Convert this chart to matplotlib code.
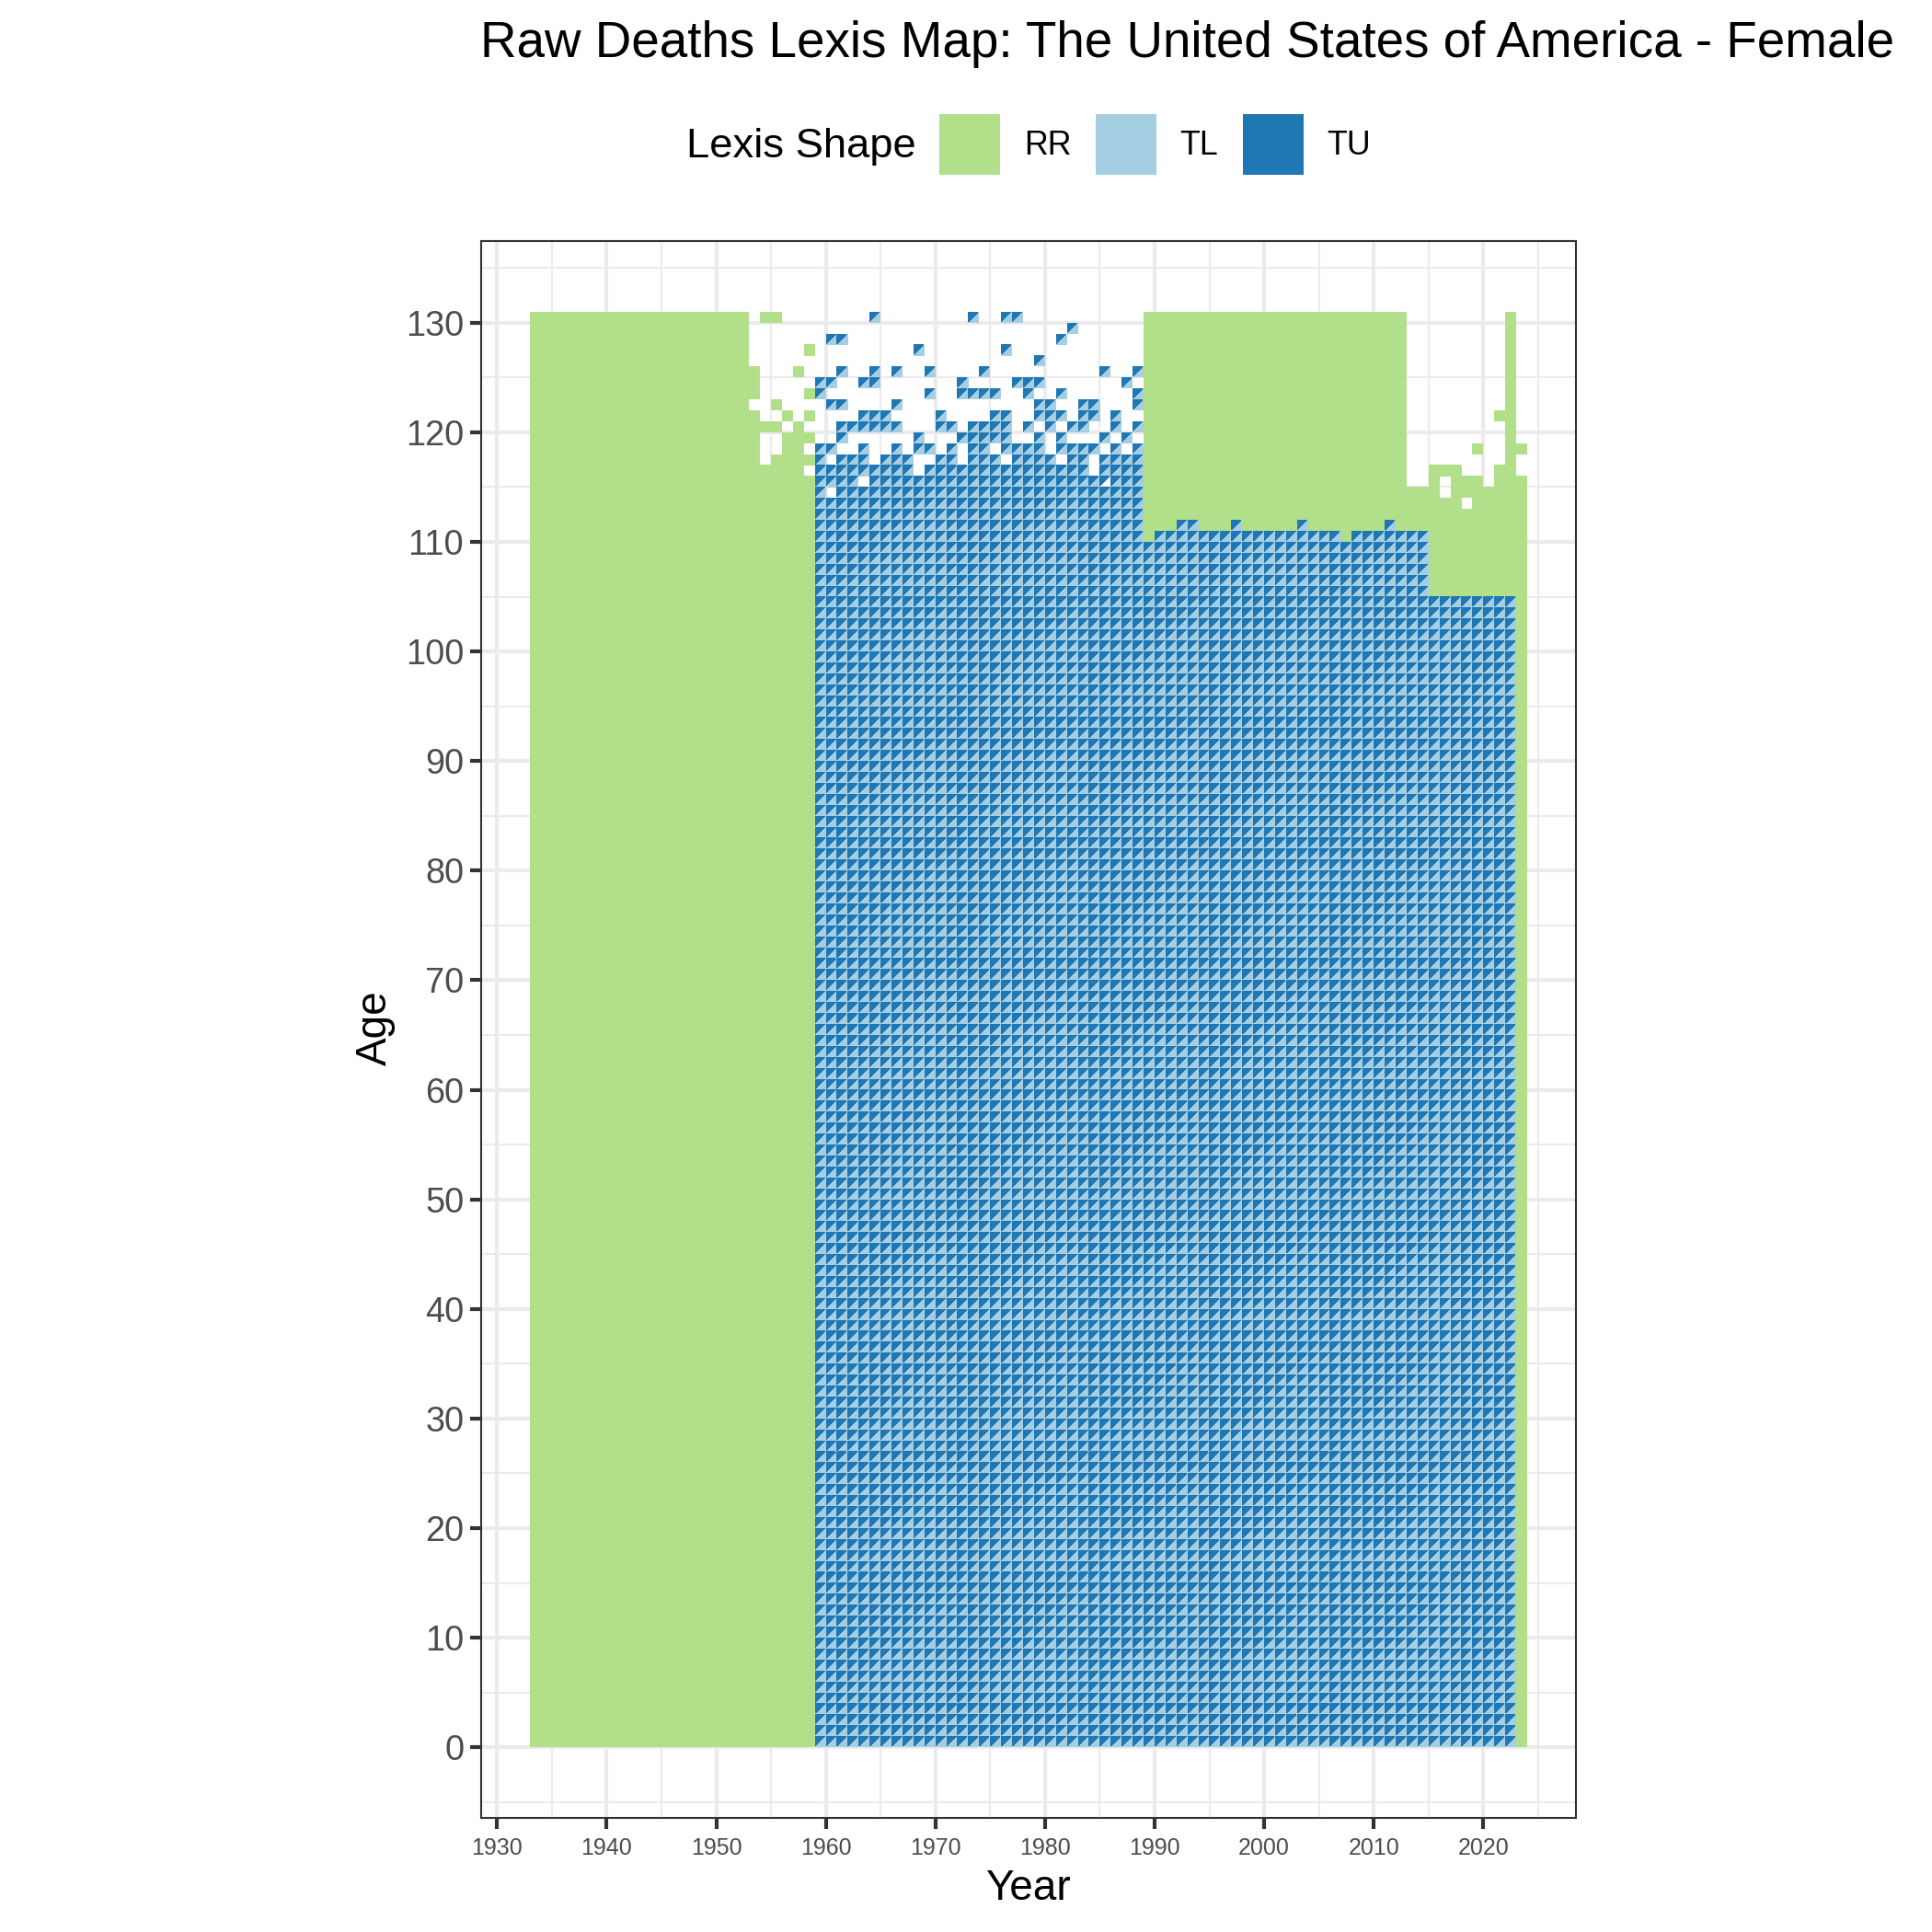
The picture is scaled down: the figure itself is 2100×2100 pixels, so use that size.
import matplotlib
matplotlib.use("Agg")
import matplotlib.pyplot as plt
from matplotlib.path import Path
from matplotlib.patches import Patch, PathPatch

plt.rcParams['font.family'] = ['Liberation Sans', 'DejaVu Sans']

title = "Raw Deaths Lexis Map: The United States of America - Female"
x_major = [1930, 1940, 1950, 1960, 1970, 1980, 1990, 2000, 2010, 2020]
x_minor = [1935, 1945, 1955, 1965, 1975, 1985, 1995, 2005, 2015, 2025]
y_major = [0, 10, 20, 30, 40, 50, 60, 70, 80, 90, 100, 110, 120, 130]
y_minor = [-5, 5, 15, 25, 35, 45, 55, 65, 75, 85, 95, 105, 115, 125, 135]
shape_names = ["RR", "TL", "TU"]
shape_colors = ["#B2DF8A", "#A6CEE3", "#1F78B4"]

# RR: runs of years with a solid span of ages
rr_first = [1933, 1953, 1954, 1955, 1956, 1957, 1958, 1989, 1990, 1992, 1994, 1997, 1998, 2003, 2004,
            2007, 2008, 2011, 2012, 2013, 2015, 2016, 2017, 2018, 2019, 2020, 2021, 2022, 2023]
rr_last = [1952, 1953, 1954, 1955, 1956, 1957, 1958, 1989, 1991, 1993, 1996, 1997, 2002, 2003, 2006,
           2007, 2010, 2011, 2012, 2014, 2015, 2016, 2017, 2018, 2019, 2020, 2021, 2022, 2023]
rr_low = [0, 0, 0, 0, 0, 0, 0, 110, 111, 112, 111, 112, 111, 112, 111,
          110, 111, 112, 111, 111, 105, 105, 105, 105, 105, 105, 105, 105, 0]
rr_high = [130, 121, 116, 117, 119, 120, 115, 130, 130, 130, 130, 130, 130, 130, 130,
           130, 130, 130, 130, 114, 116, 113, 116, 112, 115, 114, 116, 130, 115]
# RR: isolated cells
rr_single_year = [1953, 1953, 1953, 1954, 1954, 1955, 1955, 1955, 1956, 1957, 1958, 1958, 1958, 1958, 1958,
                  2016, 2018, 2018, 2019, 2021, 2023]
rr_single_age = [123, 124, 125, 120, 130, 120, 122, 130, 121, 125, 117, 119, 121, 123, 127,
                 116, 114, 115, 118, 121, 118]

# TL/TU: runs of years with triangles from age 0 to a top age
tri_first = [1959, 1989, 1990, 1992, 1994, 1997, 1998, 2003, 2004, 2007, 2008, 2011, 2012, 2015]
tri_last = [1988, 1989, 1991, 1993, 1996, 1997, 2002, 2003, 2006, 2007, 2010, 2011, 2014, 2022]
tri_top = [117, 109, 110, 111, 110, 111, 110, 111, 110, 109, 110, 111, 110, 104]
# cells absent inside those runs
tri_gap_year = [1960, 1963, 1968, 1984, 1960, 1964, 1968, 1969, 1972, 1976, 1981, 1984]
tri_gap_age = [114, 115, 116, 116, 117, 117, 117, 117, 117, 117, 117, 117]
# a cell with the upper triangle only
tl_missing_year = [1985]
tl_missing_age = [115]
# scattered cells at the highest ages
tri_sparse_age = [118, 119, 120, 121, 122, 123, 124, 125, 126, 127, 128, 129, 130]
tri_sparse_years = [
    [1959, 1960, 1963, 1966, 1968, 1969, 1971, 1973, 1974, 1976, 1977, 1978, 1979, 1981, 1982, 1983, 1984, 1986, 1988],
    [1961, 1968, 1972, 1973, 1974, 1975, 1976, 1979, 1981, 1985, 1987],
    [1961, 1962, 1963, 1964, 1965, 1966, 1970, 1971, 1973, 1974, 1975, 1976, 1978, 1980, 1982, 1983, 1986, 1988],
    [1963, 1964, 1965, 1970, 1975, 1976, 1979, 1980, 1981, 1983, 1984, 1986],
    [1960, 1961, 1966, 1979, 1980, 1983, 1984, 1988],
    [1959, 1969, 1972, 1973, 1974, 1975, 1978, 1981, 1988],
    [1959, 1960, 1963, 1964, 1972, 1977, 1978, 1979, 1987],
    [1961, 1964, 1966, 1969, 1974, 1985, 1988],
    [1979],
    [1968, 1976],
    [1960, 1961, 1981],
    [1982],
    [1964, 1973, 1976, 1977],
]

# cell lists built from the values above
rr_cells = []
for first, last, low, high in zip(rr_first, rr_last, rr_low, rr_high):
    for yr in range(first, last + 1):
        for age in range(low, high + 1):
            rr_cells.append((yr, age))
rr_cells += list(zip(rr_single_year, rr_single_age))

gaps = set(zip(tri_gap_year, tri_gap_age))
tri_cells = []
for first, last, top in zip(tri_first, tri_last, tri_top):
    for yr in range(first, last + 1):
        for age in range(0, top + 1):
            if (yr, age) not in gaps:
                tri_cells.append((yr, age))
for age, yrs in zip(tri_sparse_age, tri_sparse_years):
    tri_cells += [(yr, age) for yr in yrs]
tl_absent = set(zip(tl_missing_year, tl_missing_age))

# Aliased fills colour every pixel they touch, so each shape is pulled in by just under
# half a pixel (and the diagonal of TU by one pixel) so the cells tile without pinholes.
PX = 1 / 11.91
e = 0.4 * PX
d = 1.0 * PX
rr_polys = [[(y + e, a + e), (y + 1 - e, a + e), (y + 1 - e, a + 1 - e), (y + e, a + 1 - e)] for y, a in rr_cells]
tl_polys = [[(y + e, a + e), (y + 1 - e, a + e), (y + 1 - e, a + 1 - e)] for y, a in tri_cells if (y, a) not in tl_absent]
tu_polys = [[(y + e, a + e + d), (y + 1 - e - d, a + 1 - e), (y + e, a + 1 - e)] for y, a in tri_cells]


def shape_patch(polys, color):
    verts, codes = [], []
    for poly in polys:
        verts += poly + [poly[0]]
        codes += [Path.MOVETO] + [Path.LINETO] * (len(poly) - 1) + [Path.CLOSEPOLY]
    return PathPatch(Path(verts, codes), facecolor=color, edgecolor="none", linewidth=0,
                     antialiased=False, snap=False, zorder=2)


fig = plt.figure(figsize=(7, 7), dpi=300, facecolor="white")
L, R, T, B = 523 / 2100, 1713 / 2100, 1 - 262 / 2100, 1 - 1976 / 2100
ax = fig.add_axes([L, B, R - L, T - B])
ax.set_xlim(1928.55, 2028.45)
ax.set_ylim(-6.45, 137.45)

ax.set_axisbelow(True)
ax.set_xticks(x_major)
ax.set_xticks(x_minor, minor=True)
ax.set_yticks(y_major)
ax.set_yticks(y_minor, minor=True)
ax.grid(True, which="major", color="#EBEBEB", linewidth=1.0)
ax.grid(True, which="minor", color="#EBEBEB", linewidth=0.5)
ax.tick_params(which="minor", length=0)
ax.tick_params(axis="both", which="major", length=2.9, width=1.0, color="#333333", labelcolor="#4D4D4D")
ax.tick_params(axis="x", which="major", labelsize=6, pad=2.2)
ax.tick_params(axis="y", which="major", labelsize=9.1, pad=1.6)
for s in ax.spines.values():
    s.set_color("#333333")
    s.set_linewidth(0.5)

for polys, col in [(rr_polys, shape_colors[0]), (tl_polys, shape_colors[1]), (tu_polys, shape_colors[2])]:
    ax.add_patch(shape_patch(polys, col))

fig.text(522 / 2100, 1 - 48 / 2100, title, fontsize=13.15, color="black", ha="left", va="center")
fig.text(1117 / 2100, 1 - 2053 / 2100, "Year", fontsize=11, color="black", ha="center", va="center")
fig.text(408 / 2100, 1 - 1117 / 2100, "Age", fontsize=11, color="black", ha="center", va="center", rotation=90)
fig.text(746 / 2100, 1 - 160 / 2100, "Lexis Shape", fontsize=10.9, color="black", ha="left", va="center")

handles = [Patch(facecolor=c, edgecolor="none", label=n) for n, c in zip(shape_names, shape_colors)]
fig.legend(handles=handles, ncol=3, frameon=False, loc="lower left",
           bbox_to_anchor=(1021 / 2100, 1 - 190 / 2100), borderpad=0, borderaxespad=0,
           fontsize=8.6, handlelength=1.84, handleheight=2.45, handletextpad=0.72, columnspacing=0.74,
           labelcolor="black")

fig.savefig("out.png", dpi=300, facecolor="white")
